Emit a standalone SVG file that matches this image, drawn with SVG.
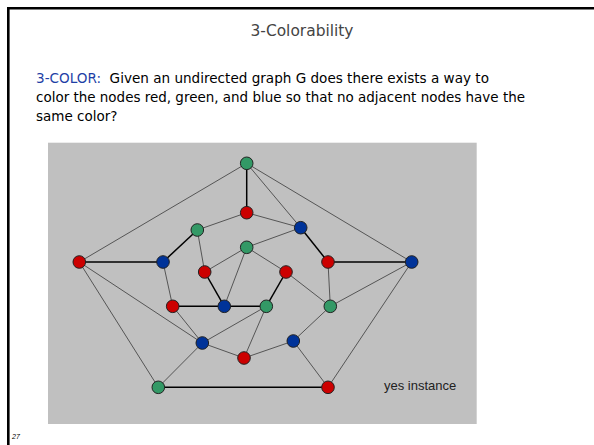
<svg xmlns="http://www.w3.org/2000/svg" width="594" height="445" viewBox="0 0 594 445">
<style>
.frame{stroke:#000;stroke-width:2.6;fill:none}
.title{font-family:"DejaVu Sans",sans-serif;font-size:15px;fill:#444}
.body{font-family:"DejaVu Sans",sans-serif;font-size:13.5px;fill:#000}
.kw{fill:#1f3fa6}
.e{stroke:#555;stroke-width:1;fill:none}
.b{stroke:#000;stroke-width:1.5;fill:none}
.n{stroke:#222;stroke-width:1}
.r{fill:#cc0000}
.g{fill:#339966}
.u{fill:#003399}
.lbl{font-family:"Liberation Sans",Arial,sans-serif;font-size:13px;fill:#222}
.pg{font-family:"Liberation Sans",Arial,sans-serif;font-size:7px;font-style:italic;fill:#000}
</style>
<rect width="594" height="445" fill="#fff"/>
<path class="frame" d="M8.3 445 V8.3 H594"/>
<text class="title" x="302" y="36" text-anchor="middle" textLength="103" lengthAdjust="spacingAndGlyphs">3-Colorability</text>
<text class="body" x="36" y="82.5" xml:space="preserve" textLength="453" lengthAdjust="spacingAndGlyphs"><tspan class="kw">3-COLOR:</tspan>  Given an undirected graph G does there exists a way to</text>
<text class="body" x="36" y="101.5" textLength="489" lengthAdjust="spacingAndGlyphs">color the nodes red, green, and blue so that no adjacent nodes have the</text>
<text class="body" x="36" y="120.5">same color?</text>
<rect x="48" y="142.7" width="428.7" height="281.3" fill="#c0c0c0"/>
<g id="connectors">
<line class="e" x1="246.7" y1="163.3" x2="79.3" y2="262"/>
<line class="e" x1="246.7" y1="163.3" x2="411.7" y2="262"/>
<line class="b" x1="246.7" y1="163.3" x2="246.7" y2="212.7"/>
<line class="e" x1="246.7" y1="163.3" x2="300.7" y2="227.7"/>
<line class="e" x1="246.7" y1="212.7" x2="197.3" y2="230"/>
<line class="e" x1="246.7" y1="212.7" x2="300.7" y2="227.7"/>
<line class="b" x1="197.3" y1="230" x2="163" y2="262"/>
<line class="e" x1="197.3" y1="230" x2="204.7" y2="272"/>
<line class="e" x1="300.7" y1="227.7" x2="246.7" y2="247.3"/>
<line class="b" x1="300.7" y1="227.7" x2="328" y2="262"/>
<line class="e" x1="246.7" y1="247.3" x2="204.7" y2="272"/>
<line class="e" x1="246.7" y1="247.3" x2="286" y2="272"/>
<line class="e" x1="246.7" y1="247.3" x2="224.3" y2="306.3"/>
<line class="b" x1="204.7" y1="272" x2="224.3" y2="306.3"/>
<line class="b" x1="286" y1="272" x2="266.3" y2="306.3"/>
<line class="e" x1="286" y1="272" x2="330.3" y2="306.3"/>
<line class="b" x1="328" y1="262" x2="411.7" y2="262"/>
<line class="e" x1="328" y1="262" x2="330.3" y2="306.3"/>
<line class="b" x1="163" y1="262" x2="79.3" y2="262"/>
<line class="e" x1="163" y1="262" x2="172.7" y2="306.3"/>
<line class="b" x1="172.7" y1="306.3" x2="224.3" y2="306.3"/>
<line class="e" x1="172.7" y1="306.3" x2="202.3" y2="343"/>
<line class="b" x1="224.3" y1="306.3" x2="266.3" y2="306.3"/>
<line class="e" x1="266.3" y1="306.3" x2="202.3" y2="343"/>
<line class="e" x1="266.3" y1="306.3" x2="244" y2="358"/>
<line class="e" x1="330.3" y1="306.3" x2="411.7" y2="262"/>
<line class="e" x1="330.3" y1="306.3" x2="293.3" y2="341"/>
<line class="e" x1="202.3" y1="343" x2="79.3" y2="262"/>
<line class="e" x1="202.3" y1="343" x2="244" y2="358"/>
<line class="e" x1="202.3" y1="343" x2="158.3" y2="387.3"/>
<line class="e" x1="244" y1="358" x2="293.3" y2="341"/>
<line class="e" x1="293.3" y1="341" x2="328" y2="387.3"/>
<line class="e" x1="158.3" y1="387.3" x2="79.3" y2="262"/>
<line class="b" x1="158.3" y1="387.3" x2="328" y2="387.3"/>
<line class="e" x1="328" y1="387.3" x2="411.7" y2="262"/>
</g>
<g id="nA"><circle class="n g" cx="246.7" cy="163.3" r="6.3"/></g>
<g id="nB"><circle class="n r" cx="246.7" cy="212.7" r="6.3"/></g>
<g id="nC"><circle class="n g" cx="197.3" cy="230" r="6.3"/></g>
<g id="nD"><circle class="n u" cx="300.7" cy="227.7" r="6.3"/></g>
<g id="nE"><circle class="n g" cx="246.7" cy="247.3" r="6.3"/></g>
<g id="nF"><circle class="n r" cx="79.3" cy="262" r="6.3"/></g>
<g id="nG"><circle class="n u" cx="163" cy="262" r="6.3"/></g>
<g id="nH"><circle class="n r" cx="204.7" cy="272" r="6.3"/></g>
<g id="nI"><circle class="n r" cx="286" cy="272" r="6.3"/></g>
<g id="nJ"><circle class="n r" cx="328" cy="262" r="6.3"/></g>
<g id="nK"><circle class="n u" cx="411.7" cy="262" r="6.3"/></g>
<g id="nL"><circle class="n r" cx="172.7" cy="306.3" r="6.3"/></g>
<g id="nM"><circle class="n u" cx="224.3" cy="306.3" r="6.3"/></g>
<g id="nN"><circle class="n g" cx="266.3" cy="306.3" r="6.3"/></g>
<g id="nO"><circle class="n g" cx="330.3" cy="306.3" r="6.3"/></g>
<g id="nP"><circle class="n u" cx="202.3" cy="343" r="6.3"/></g>
<g id="nQ"><circle class="n r" cx="244" cy="358" r="6.3"/></g>
<g id="nR"><circle class="n u" cx="293.3" cy="341" r="6.3"/></g>
<g id="nS"><circle class="n g" cx="158.3" cy="387.3" r="6.3"/></g>
<g id="nT"><circle class="n r" cx="328" cy="387.3" r="6.3"/></g>
<text class="lbl" x="384" y="390">yes instance</text>
<text class="pg" x="12" y="439">27</text>
</svg>
